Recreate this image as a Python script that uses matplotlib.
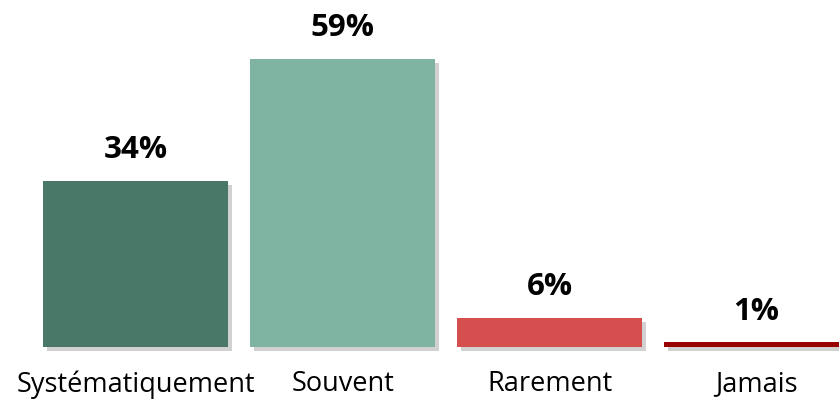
import matplotlib
matplotlib.use('Agg')
import matplotlib.pyplot as plt
import matplotlib.patheffects as pe

# valeurs
categories = ["Systématiquement", "Souvent", "Rarement", "Jamais"]
values = [34, 59, 6, 1]
colors = ["#4a7868", "#80b4a2", "#d64f4f", "#990000"]

plt.rcParams["font.family"] = ["Open Sans", "DejaVu Sans"]

fig = plt.figure(figsize=(8.39, 4.01), dpi=100)
ax = fig.add_axes([0, 0, 1, 1])

xs = list(range(len(categories)))
bars = ax.bar(xs, values, width=0.894, color=colors, zorder=2)
for b in bars:
    b.set_path_effects([pe.SimplePatchShadow(offset=(3, -3), shadow_rgbFace="#999999", alpha=0.45),
                        pe.Normal()])

for x, v in zip(xs, values):
    ax.annotate(f"{v}%", (x, v), xytext=(0, 22), textcoords="offset points",
                ha="center", va="center", fontsize=22.5, fontweight="bold", color="black")

for x, c in zip(xs, categories):
    ax.annotate(c, (x, 0), xytext=(0, -27), textcoords="offset points",
                ha="center", va="center", fontsize=19.5, color="black")

ax.set_xlim(-0.655, 3.398)
ax.set_ylim(-11.07, 71.1)
ax.axis("off")

plt.savefig("out.png", dpi=100)
